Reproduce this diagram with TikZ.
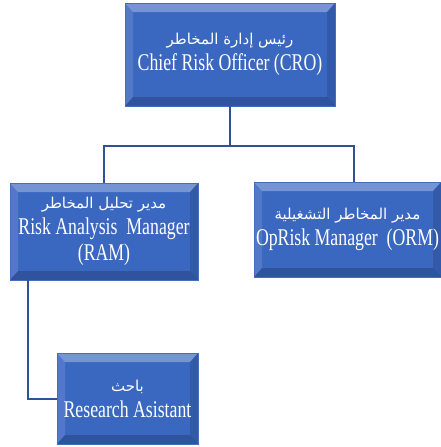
\documentclass[tikz,border=0pt]{standalone}
\usepackage{fontspec}
\setmainfont[FakeStretch=0.74]{Liberation Serif}
\newfontfamily\arabicfont[Script=Arabic]{DejaVu Sans}
\TeXXeTstate=1
\usepackage{xcolor}
\usepackage{tikz}
\usetikzlibrary{positioning}
\definecolor{boxblue}{RGB}{58,103,192}
\definecolor{boxedge}{RGB}{70,110,190}
\definecolor{linkblue}{RGB}{47,82,150}
\newcommand{\ar}[1]{{\arabicfont\fontsize{15}{20}\selectfont\beginR #1\endR}}

\begin{document}
\begin{tikzpicture}[x=1pt,y=-1pt,
    box/.style={fill=boxblue,draw=boxedge,line width=0.6pt,text=white,align=center,
        inner sep=2pt,font=\fontsize{24}{26}\selectfont,
        path picture={
            \fill[white,opacity=0.30] (path picture bounding box.north west) -- (path picture bounding box.north east)
                -- ([xshift=-8pt,yshift=-9pt]path picture bounding box.north east) -- ([xshift=8pt,yshift=-9pt]path picture bounding box.north west) -- cycle;
            \fill[white,opacity=0.12] (path picture bounding box.north west) -- ([xshift=8pt,yshift=-9pt]path picture bounding box.north west)
                -- ([xshift=8pt,yshift=9pt]path picture bounding box.south west) -- (path picture bounding box.south west) -- cycle;
            \fill[black,opacity=0.12] (path picture bounding box.north east) -- ([xshift=-8pt,yshift=-9pt]path picture bounding box.north east)
                -- ([xshift=-8pt,yshift=9pt]path picture bounding box.south east) -- (path picture bounding box.south east) -- cycle;
            \fill[black,opacity=0.18] (path picture bounding box.south west) -- ([xshift=8pt,yshift=9pt]path picture bounding box.south west)
                -- ([xshift=-8pt,yshift=9pt]path picture bounding box.south east) -- (path picture bounding box.south east) -- cycle;
        }},
    link/.style={draw=linkblue,line width=2pt}]
    \useasboundingbox (0,0) rectangle (441,447);

    \node[box,minimum width=210pt,minimum height=103pt] (cro) at (230,54.5) {\ar{رئيس إدارة المخاطر}\\Chief Risk Officer (CRO)};
    \node[box,minimum width=188pt,minimum height=97pt] (ram) at (104,231.5) {\ar{مدير تحليل المخاطر}\\Risk Analysis\ \ Manager\\(RAM)};
    \node[box,minimum width=187pt,minimum height=95pt] (orm) at (347.5,229.5) {\ar{مدير المخاطر التشغيلية}\\OpRisk Manager\ \ (ORM)};
    \node[box,minimum width=141pt,minimum height=91pt] (ra) at (127.5,398.5) {\ar{باحث}\\Research Asistant};

    \draw[link] (cro.south) -- ++(0,40) coordinate (split) -| (ram.north);
    \draw[link] (split) -| ([xshift=6pt]orm.north);
    \draw[link] ([xshift=-76pt]ram.south) |- (ra.west);
\end{tikzpicture}
\end{document}
